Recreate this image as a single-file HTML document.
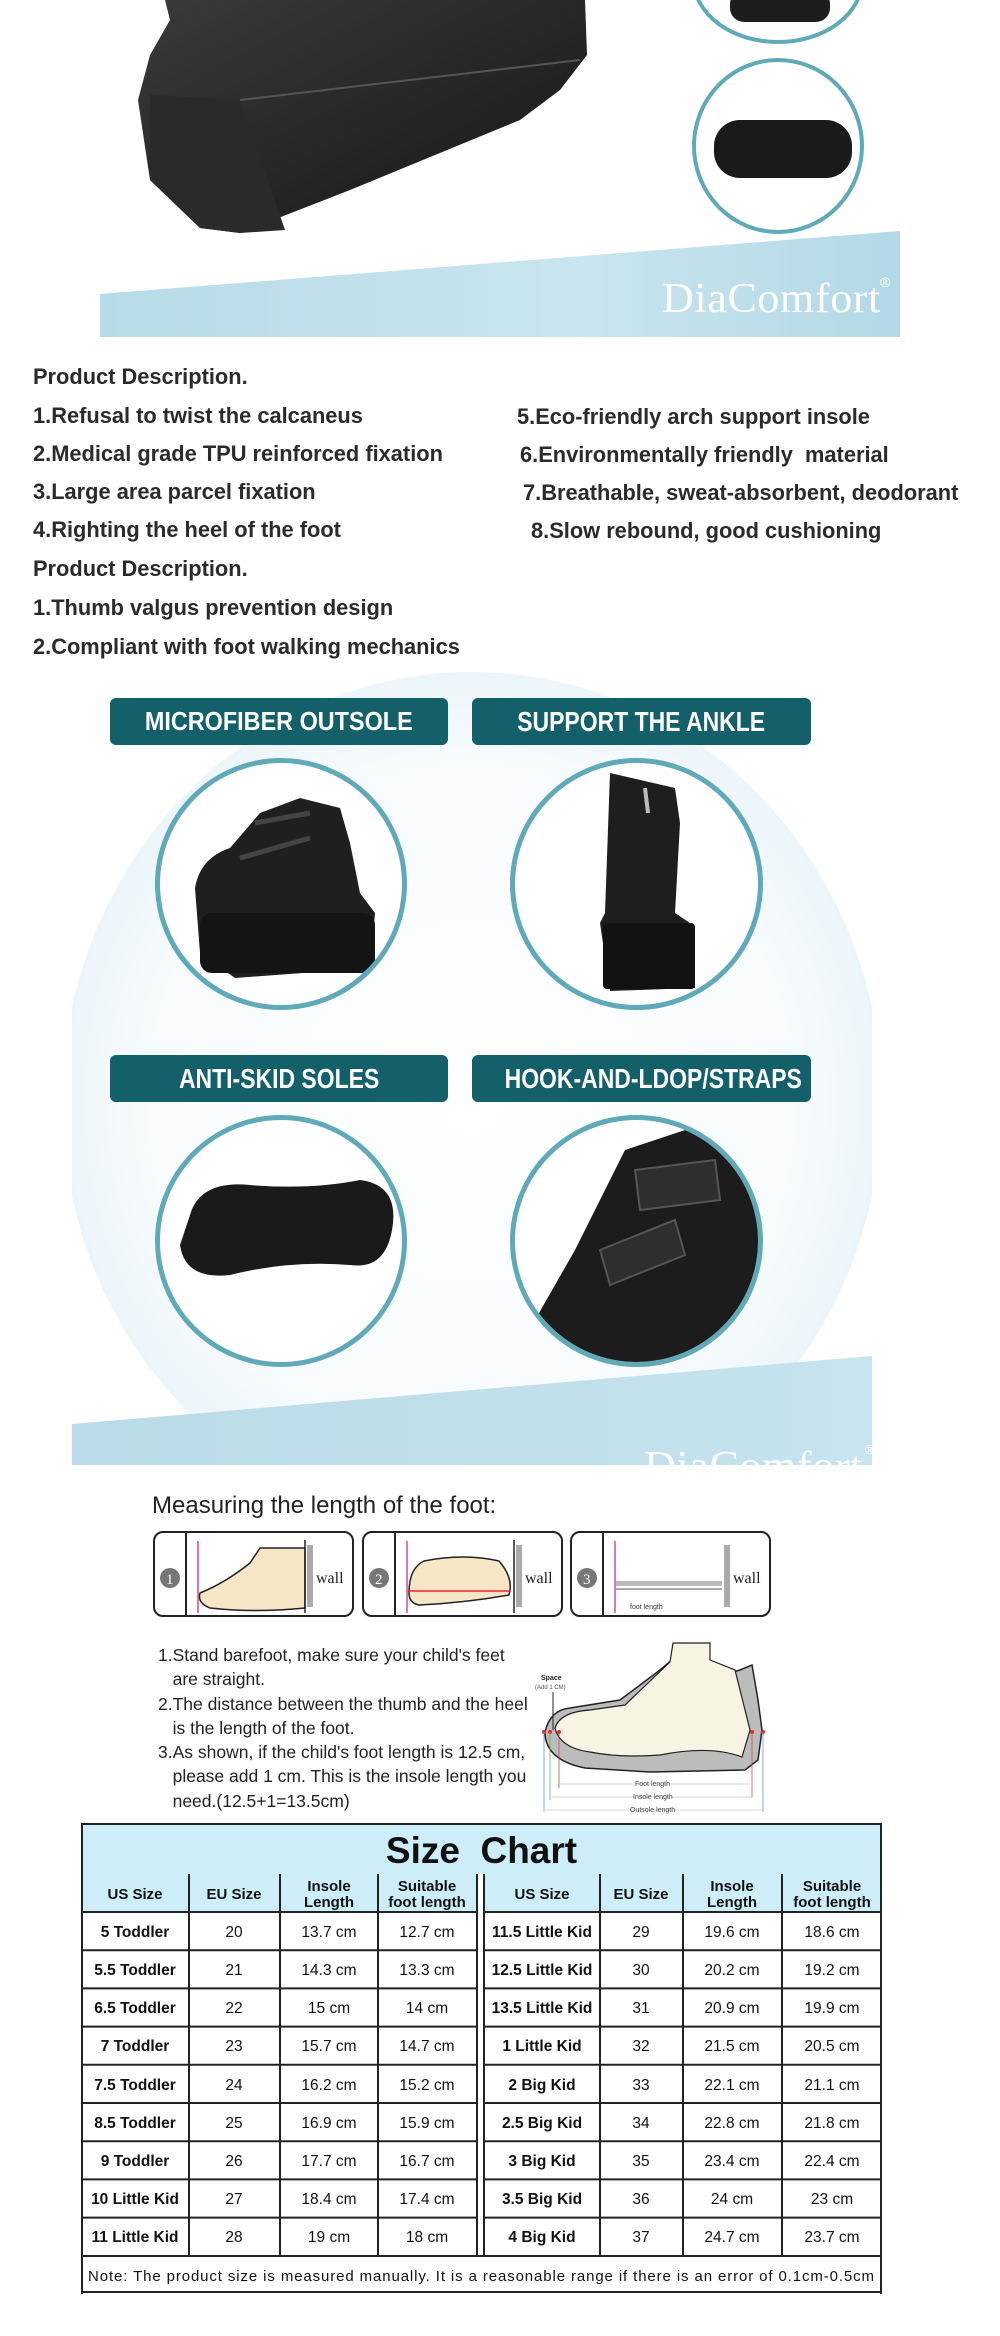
<!DOCTYPE html>
<html><head><meta charset="utf-8">
<style>
*{margin:0;padding:0;box-sizing:border-box}
body{width:1000px;height:2336px;position:relative;background:#fff;overflow:hidden;font-family:"Liberation Sans",sans-serif}
.a{position:absolute}
.t{position:absolute;font-weight:bold;font-size:22.5px;color:#2b2b2b;white-space:nowrap;line-height:26px;transform-origin:0 0;transform:scaleX(0.97)}
.lab{position:absolute;background:#13606a;border-radius:6px;color:#fff;font-weight:bold;text-align:center;line-height:47px;height:47px;overflow:hidden}
.lab span{display:inline-block;font-size:28px;transform:scaleX(0.82);white-space:nowrap}
.circ{position:absolute;border:5px solid #5fa9b9;border-radius:50%;background:#fff;overflow:hidden}
.mb{position:absolute;border:2.5px solid #222;border-radius:10px;background:#fff;overflow:hidden}
.ins{position:absolute;font-size:17.5px;color:#222;white-space:nowrap;line-height:24.3px}
</style></head><body>

<svg class="a" style="left:0;top:0" width="1000" height="345">
<defs>
<linearGradient id="bn" x1="0" y1="0" x2="1" y2="0"><stop offset="0" stop-color="#b6dbe8"/><stop offset="0.6" stop-color="#c9e5ef"/><stop offset="1" stop-color="#b3d8e6"/></linearGradient>
<linearGradient id="sh" x1="0" y1="0" x2="1" y2="1"><stop offset="0" stop-color="#3a3a3a"/><stop offset="1" stop-color="#151515"/></linearGradient>
</defs>
<polygon points="100,294 900,231 900,337 100,337" fill="url(#bn)"/>
<g transform="translate(662,312) scale(1.05,1)"><text x="0" y="0" font-family="Liberation Serif, serif" font-size="42" fill="#fff" textLength="208">DiaComfort</text></g>
<text x="880" y="287" font-size="14" fill="#fff">®</text>
<polygon points="165,0 585,0 587,55 560,90 520,120 350,190 240,233 200,228 150,180 138,100 150,55 170,20" fill="url(#sh)"/>
<polygon points="150,95 240,100 285,230 240,233 200,228 150,180" fill="#2a2a2a"/>
<path d="M240,100 L580,60" stroke="#555" stroke-width="2" fill="none"/>
<ellipse cx="778" cy="-20" rx="84" ry="62" fill="#fff" stroke="#5fa9b9" stroke-width="4"/>
<rect x="730" y="-10" width="100" height="32" rx="14" fill="#1d1d1d"/>
<ellipse cx="778" cy="146" rx="84" ry="86" fill="#fff" stroke="#5fa9b9" stroke-width="4"/>
<rect x="714" y="120" width="138" height="58" rx="26" fill="#1a1a1a"/>
</svg>

<div class="t" style="left:33px;top:364px">Product Description.</div>
<div class="t" style="left:33px;top:403px">1.Refusal to twist the calcaneus</div>
<div class="t" style="left:33px;top:441px">2.Medical grade TPU reinforced fixation</div>
<div class="t" style="left:33px;top:479px">3.Large area parcel fixation</div>
<div class="t" style="left:33px;top:517px">4.Righting the heel of the foot</div>
<div class="t" style="left:33px;top:556px">Product Description.</div>
<div class="t" style="left:33px;top:595px">1.Thumb valgus prevention design</div>
<div class="t" style="left:33px;top:634px">2.Compliant with foot walking mechanics</div>
<div class="t" style="left:517px;top:404px">5.Eco-friendly arch support insole</div>
<div class="t" style="left:520px;top:442px">6.Environmentally friendly&nbsp; material</div>
<div class="t" style="left:523px;top:480px">7.Breathable, sweat-absorbent, deodorant</div>
<div class="t" style="left:531px;top:518px">8.Slow rebound, good cushioning</div>

<div class="a" style="left:72px;top:672px;width:800px;height:793px;overflow:hidden">
  <div class="a" style="left:-10px;top:0;width:820px;height:860px;border-radius:50%;background:radial-gradient(ellipse at center,#ffffff 0%,#f7fbfd 55%,#e2f0f6 85%,#d8ebf3 100%)"></div>
  <svg class="a" style="left:0;top:0" width="800" height="793">
    <defs><linearGradient id="bn2" x1="0" y1="0" x2="1" y2="0"><stop offset="0" stop-color="#b9dce8"/><stop offset="1" stop-color="#c6e3ee"/></linearGradient></defs>
    <polygon points="0,752 800,684 800,793 0,793" fill="url(#bn2)"/>
    <g transform="translate(572,808) scale(1.05,1)"><text x="0" y="0" font-family="Liberation Serif, serif" font-size="42" fill="#fff" textLength="208">DiaComfort</text></g>
    <text x="793" y="782" font-size="13" fill="#fff">®</text>
  </svg>
</div>
<div class="lab" style="left:110px;top:698px;width:338px"><span style="font-size:26px;transform:scaleX(0.9)">MICROFIBER OUTSOLE</span></div>
<div class="lab" style="left:472px;top:698px;width:339px"><span>SUPPORT THE ANKLE</span></div>
<div class="lab" style="left:110px;top:1055px;width:338px"><span>ANTI-SKID SOLES</span></div>
<div class="lab" style="left:472px;top:1055px;width:339px"><span>HOOK-AND-LDOP/STRAPS</span></div>

<div class="circ" style="left:155px;top:758px;width:252px;height:252px">
 <svg width="242" height="242"><path d="M35,125 Q40,95 70,85 L100,50 L140,35 L180,45 L190,80 L200,130 L215,150 L210,205 L75,215 L40,190 Z" fill="#1f1f1f"/><rect x="40" y="150" width="175" height="60" rx="12" fill="#141414"/><path d="M95,60 L150,50 M80,95 L150,75" stroke="#444" stroke-width="5"/></svg>
</div>
<div class="circ" style="left:510px;top:758px;width:253px;height:252px">
 <svg width="243" height="243"><path d="M95,10 L160,25 L165,60 L160,150 L175,160 L180,225 L95,228 L85,160 L90,150 Z" fill="#1e1e1e"/><rect x="88" y="160" width="92" height="66" rx="4" fill="#121212"/><path d="M130,25 L133,50" stroke="#bbb" stroke-width="4"/></svg>
</div>
<div class="circ" style="left:155px;top:1115px;width:252px;height:252px">
 <svg width="242" height="242"><path d="M30,95 Q40,60 90,65 Q150,70 200,60 Q240,65 232,110 Q225,150 190,145 Q130,140 70,155 Q25,160 20,125 Z" fill="#1a1a1a"/></svg>
</div>
<div class="circ" style="left:510px;top:1115px;width:253px;height:252px">
 <svg width="243" height="243"><path d="M60,130 L110,30 L170,10 L243,20 L243,243 L0,243 L20,200 Z" fill="#1c1c1c"/><path d="M120,50 L200,40 L205,80 L125,90 Z M85,130 L160,100 L170,135 L95,165 Z" fill="#2e2e2e" stroke="#555" stroke-width="2"/></svg>
</div>

<div class="a" style="left:152px;top:1492px;font-size:24px;color:#222;white-space:nowrap">Measuring the length of the foot:</div>
<div class="mb" style="left:153px;top:1531px;width:201px;height:86px">
 <svg width="200" height="84"><line x1="31" y1="0" x2="31" y2="84" stroke="#222" stroke-width="2"/><circle cx="15" cy="45" r="10" fill="#777"/><text x="11" y="51" font-size="15" fill="#fff" font-family="Liberation Serif">1</text>
 <line x1="43" y1="8" x2="43" y2="80" stroke="#d54a8a" stroke-width="1.5"/>
 <path d="M45,60 Q70,50 95,30 L105,15 L150,15 L150,75 Q100,80 55,75 Q42,70 45,60Z" fill="#f6e6c6" stroke="#222" stroke-width="1.5"/>
 <line x1="150" y1="7" x2="150" y2="80" stroke="#222" stroke-width="1.5"/><rect x="152" y="12" width="6" height="62" fill="#aaa"/>
 <text x="161" y="50" font-family="Liberation Serif" font-size="16" fill="#222">wall</text></svg>
</div>
<div class="mb" style="left:362px;top:1531px;width:201px;height:86px">
 <svg width="200" height="84"><line x1="31" y1="0" x2="31" y2="84" stroke="#222" stroke-width="2"/><circle cx="15" cy="45" r="10" fill="#777"/><text x="11" y="51" font-size="15" fill="#fff" font-family="Liberation Serif">2</text>
 <line x1="43" y1="8" x2="43" y2="80" stroke="#d54a8a" stroke-width="1.5"/>
 <path d="M45,60 Q45,35 60,28 Q100,20 135,28 Q150,45 145,62 Q100,70 55,72 Q45,70 45,60Z" fill="#f6e6c6" stroke="#222" stroke-width="1.5"/>
 <line x1="44" y1="58" x2="146" y2="58" stroke="#e23" stroke-width="1.5"/>
 <line x1="150" y1="7" x2="150" y2="80" stroke="#222" stroke-width="1.5"/><rect x="152" y="12" width="6" height="62" fill="#aaa"/>
 <text x="161" y="50" font-family="Liberation Serif" font-size="16" fill="#222">wall</text></svg>
</div>
<div class="mb" style="left:570px;top:1531px;width:201px;height:86px">
 <svg width="200" height="84"><line x1="31" y1="0" x2="31" y2="84" stroke="#222" stroke-width="2"/><circle cx="15" cy="45" r="10" fill="#777"/><text x="11" y="51" font-size="15" fill="#fff" font-family="Liberation Serif">3</text>
 <line x1="43" y1="8" x2="43" y2="80" stroke="#d54a8a" stroke-width="1.5"/>
 <rect x="44" y="48" width="106" height="5" fill="#bbb"/><line x1="44" y1="56" x2="150" y2="56" stroke="#555"/>
 <text x="58" y="76" font-size="7" fill="#333">foot length</text>
 <rect x="152" y="12" width="6" height="62" fill="#aaa"/>
 <text x="161" y="50" font-family="Liberation Serif" font-size="16" fill="#222">wall</text></svg>
</div>

<div class="ins" style="left:158px;top:1643px">1.Stand barefoot, make sure your child's feet<br>&nbsp;&nbsp;&nbsp;are straight.<br>2.The distance between the thumb and the heel<br>&nbsp;&nbsp;&nbsp;is the length of the foot.<br>3.As shown, if the child's foot length is 12.5 cm,<br>&nbsp;&nbsp;&nbsp;please add 1 cm. This is the insole length you<br>&nbsp;&nbsp;&nbsp;need.(12.5+1=13.5cm)</div>

<svg class="a" style="left:530px;top:1640px" width="260" height="180">
 <path d="M15,92 Q20,70 40,68 L90,60 L130,30 L148,15 L150,40 L160,45 L210,30 L222,25 L228,60 L232,90 L228,120 L215,130 L120,132 L55,128 Q15,120 15,92Z" fill="#bcbcbc" stroke="#222" stroke-width="1.5"/>
 <path d="M25,88 Q30,72 60,70 L95,65 L140,22 L143,3 L180,3 L180,20 L205,30 L220,90 L212,117 Q180,105 130,115 Q90,118 60,112 Q30,108 25,88Z" fill="#f7f4e3" stroke="#222" stroke-width="1.2"/>
 <line x1="23" y1="52" x2="23" y2="90" stroke="#222"/>
 <text x="11" y="40" font-size="7" font-weight="bold" fill="#222">Space</text>
 <text x="5" y="49" font-size="6" fill="#555">(Add 1 CM)</text>
 <circle cx="14" cy="92" r="2" fill="#e22"/><circle cx="20" cy="92" r="2" fill="#e22"/><circle cx="29" cy="92" r="2" fill="#e22"/><circle cx="222" cy="92" r="2" fill="#e22"/><circle cx="233" cy="92" r="2" fill="#e22"/>
 <line x1="29" y1="92" x2="29" y2="148" stroke="#b55" stroke-width=".8"/><line x1="222" y1="92" x2="222" y2="157" stroke="#b55" stroke-width=".8"/>
 <line x1="20" y1="92" x2="20" y2="160" stroke="#6a6" stroke-width=".8"/><line x1="14" y1="92" x2="14" y2="172" stroke="#69b" stroke-width=".8"/><line x1="233" y1="92" x2="233" y2="172" stroke="#69b" stroke-width=".8"/>
 <line x1="30" y1="144" x2="220" y2="144" stroke="#aaa" stroke-width=".6"/><text x="105" y="146" font-size="7" fill="#444">Foot length</text>
 <line x1="21" y1="157" x2="222" y2="157" stroke="#aaa" stroke-width=".6"/><text x="103" y="159" font-size="7" fill="#444">Insole length</text>
 <line x1="15" y1="170" x2="232" y2="170" stroke="#aaa" stroke-width=".6"/><text x="100" y="172" font-size="7" fill="#444">Outsole length</text>
</svg>

<div class="a" style="left:81px;top:1823px;width:801px;height:470px;border:2px solid #222;background:#fff">
 <div class="a" style="left:0;top:0;width:797px;height:51px;background:#cdeef8;border-bottom:2px solid #222;text-align:center;font-weight:bold;font-size:37px;line-height:51px;color:#111">Size&nbsp; Chart</div>
</div>
<svg class="a" style="left:81px;top:1874px" width="801" height="420" font-family="Liberation Sans, sans-serif">
 <rect x="2" y="0" width="797" height="38" fill="#cdeef8"/>
 <g stroke="#222" stroke-width="2">
  <line x1="0" y1="38" x2="801" y2="38"/>
  <line x1="0" y1="76.2" x2="801" y2="76.2"/><line x1="0" y1="114.4" x2="801" y2="114.4"/><line x1="0" y1="152.6" x2="801" y2="152.6"/><line x1="0" y1="190.8" x2="801" y2="190.8"/><line x1="0" y1="229" x2="801" y2="229"/><line x1="0" y1="267.2" x2="801" y2="267.2"/><line x1="0" y1="305.4" x2="801" y2="305.4"/><line x1="0" y1="343.6" x2="801" y2="343.6"/>
  <line x1="0" y1="382" x2="801" y2="382"/>
  <line x1="1" y1="0" x2="1" y2="420"/><line x1="800" y1="0" x2="800" y2="420"/>
  <line x1="108" y1="0" x2="108" y2="382"/><line x1="199" y1="0" x2="199" y2="382"/><line x1="297" y1="0" x2="297" y2="382"/><line x1="396" y1="0" x2="396" y2="382"/>
  <line x1="403" y1="0" x2="403" y2="382"/><line x1="519" y1="0" x2="519" y2="382"/><line x1="602" y1="0" x2="602" y2="382"/><line x1="701" y1="0" x2="701" y2="382"/>
 </g>
 <rect x="397" y="0" width="5" height="381" fill="#fff"/>
 <g font-size="15" fill="#111" text-anchor="middle" font-weight="bold">
  <text x="54" y="25">US Size</text><text x="153" y="25">EU Size</text><text x="248" y="17">Insole</text><text x="248" y="33">Length</text><text x="346" y="17">Suitable</text><text x="346" y="33">foot length</text>
  <text x="461" y="25">US Size</text><text x="560" y="25">EU Size</text><text x="651" y="17">Insole</text><text x="651" y="33">Length</text><text x="751" y="17">Suitable</text><text x="751" y="33">foot length</text>
 </g>
 <g font-size="15.5" fill="#111" text-anchor="middle">
  <g font-weight="bold"><text x="54" y="63">5 Toddler</text><text x="54" y="101">5.5 Toddler</text><text x="54" y="139">6.5 Toddler</text><text x="54" y="177">7 Toddler</text><text x="54" y="216">7.5 Toddler</text><text x="54" y="254">8.5 Toddler</text><text x="54" y="292">9 Toddler</text><text x="54" y="330">10 Little Kid</text><text x="54" y="368">11 Little Kid</text></g>
  <text x="153" y="63">20</text><text x="153" y="101">21</text><text x="153" y="139">22</text><text x="153" y="177">23</text><text x="153" y="216">24</text><text x="153" y="254">25</text><text x="153" y="292">26</text><text x="153" y="330">27</text><text x="153" y="368">28</text>
  <text x="248" y="63">13.7 cm</text><text x="248" y="101">14.3 cm</text><text x="248" y="139">15 cm</text><text x="248" y="177">15.7 cm</text><text x="248" y="216">16.2 cm</text><text x="248" y="254">16.9 cm</text><text x="248" y="292">17.7 cm</text><text x="248" y="330">18.4 cm</text><text x="248" y="368">19 cm</text>
  <text x="346" y="63">12.7 cm</text><text x="346" y="101">13.3 cm</text><text x="346" y="139">14 cm</text><text x="346" y="177">14.7 cm</text><text x="346" y="216">15.2 cm</text><text x="346" y="254">15.9 cm</text><text x="346" y="292">16.7 cm</text><text x="346" y="330">17.4 cm</text><text x="346" y="368">18 cm</text>
  <g font-weight="bold"><text x="461" y="63">11.5 Little Kid</text><text x="461" y="101">12.5 Little Kid</text><text x="461" y="139">13.5 Little Kid</text><text x="461" y="177">1 Little Kid</text><text x="461" y="216">2 Big Kid</text><text x="461" y="254">2.5 Big Kid</text><text x="461" y="292">3 Big Kid</text><text x="461" y="330">3.5 Big Kid</text><text x="461" y="368">4 Big Kid</text></g>
  <text x="560" y="63">29</text><text x="560" y="101">30</text><text x="560" y="139">31</text><text x="560" y="177">32</text><text x="560" y="216">33</text><text x="560" y="254">34</text><text x="560" y="292">35</text><text x="560" y="330">36</text><text x="560" y="368">37</text>
  <text x="651" y="63">19.6 cm</text><text x="651" y="101">20.2 cm</text><text x="651" y="139">20.9 cm</text><text x="651" y="177">21.5 cm</text><text x="651" y="216">22.1 cm</text><text x="651" y="254">22.8 cm</text><text x="651" y="292">23.4 cm</text><text x="651" y="330">24 cm</text><text x="651" y="368">24.7 cm</text>
  <text x="751" y="63">18.6 cm</text><text x="751" y="101">19.2 cm</text><text x="751" y="139">19.9 cm</text><text x="751" y="177">20.5 cm</text><text x="751" y="216">21.1 cm</text><text x="751" y="254">21.8 cm</text><text x="751" y="292">22.4 cm</text><text x="751" y="330">23 cm</text><text x="751" y="368">23.7 cm</text>
 </g>
 <text x="7" y="407" font-size="15" fill="#111" textLength="786">Note: The product size is measured manually. It is a reasonable range if there is an error of 0.1cm-0.5cm</text>
</svg>
</body></html>
